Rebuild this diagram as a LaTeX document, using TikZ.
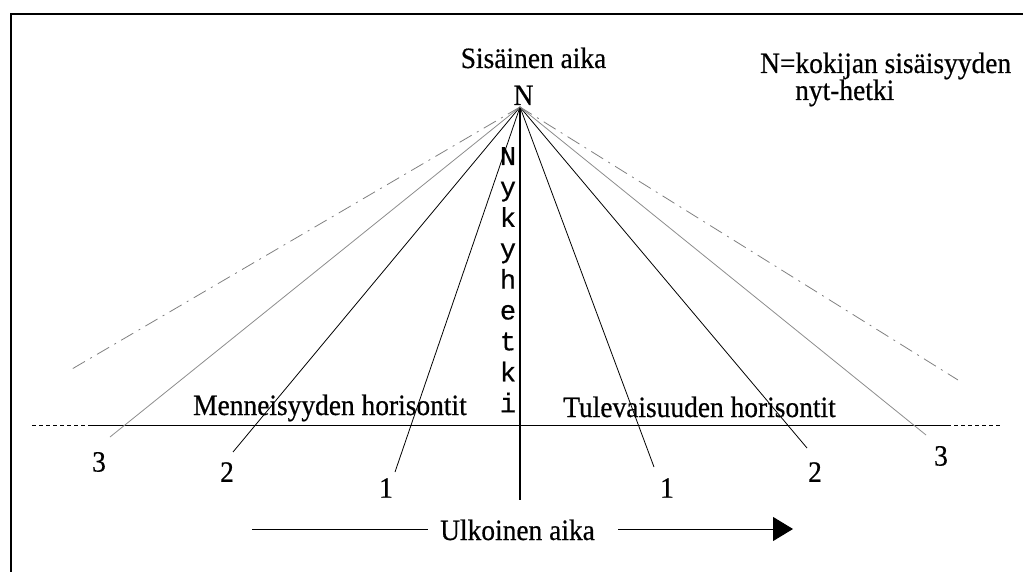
\documentclass[tikz,border=0pt]{standalone}
\usepackage{fontspec}
\setmainfont[FakeStretch=0.93,FakeBold=0.5]{Liberation Serif}
\setmonofont[FakeBold=0.4]{Liberation Mono}
\usetikzlibrary{arrows.meta}
\tikzset{
  x=1pt, y=-1pt,
  lbl/.style={font=\fontsize{29.5}{32}\selectfont, inner sep=0pt},
  mono/.style={font=\ttfamily\fontsize{27}{30}\selectfont, inner sep=0pt, anchor=base},
  ray/.style={line width=0.8pt},
  rayfaint/.style={line width=0.8pt, black!45},
  raydash/.style={line width=0.8pt, black!50, dash pattern=on 14pt off 6pt on 2pt off 6pt},
  axis/.style={line width=1.1pt},
  horiz/.style={line width=1pt},
  horizdash/.style={line width=1pt, dash pattern=on 4pt off 3pt},
}
\begin{document}
\begin{tikzpicture}
\useasboundingbox (0,0) rectangle (1023,572);
% frame: top and left edges
\draw[line width=1.2pt] (11,572) -- (11,14) -- (1023,14);

% apex of the fan
\coordinate (apex) at (520,107);
\node[lbl, anchor=base] (Nlbl) at (523.5,105) {N};
\node[lbl, anchor=base] (sis) at (533.5,68) {Sisäinen aika};
\node[lbl, anchor=base west] (def1) at (760,73) {N=kokijan sisäisyyden};
\node[lbl, anchor=base west] (def2) at (795,100) {nyt-hetki};

% vertical axis with the word written downwards
\coordinate (axbot) at (520,500);
\draw[axis] (apex) -- (axbot);
\foreach \c [count=\i from 0] in {N,y,k,y,h,e,t,k,i}
  \node[mono] (nyk\i) at (508,165+30.9*\i) {\c};

% horizon line
\coordinate (h0) at (32,425);
\coordinate (h1) at (92,425);
\coordinate (h2) at (947,425);
\coordinate (h3) at (1000,425);
\draw[horizdash] (h0) -- (h1);
\draw[horiz] (h1) -- (h2);
\draw[horizdash] (h2) -- (h3);

% rays towards the past
\coordinate (l1) at (395,472);
\coordinate (l2) at (233,452);
\coordinate (l3) at (110,437);
\coordinate (l4) at (72,369);
% rays towards the future
\coordinate (r1) at (654,467);
\coordinate (r2) at (807,448);
\coordinate (r3) at (926,435);
\coordinate (r4) at (958,380);
\draw[ray] (apex) -- (l1);
\draw[ray] (apex) -- (l2);
\draw[rayfaint] (apex) -- (l3);
\draw[raydash] (apex) -- (l4);
\draw[ray] (apex) -- (r1);
\draw[ray] (apex) -- (r2);
\draw[rayfaint] (apex) -- (r3);
\draw[raydash] (apex) -- (r4);

% ray numbers
\node[lbl] (nl3) at (99,462) {3};
\node[lbl] (nl2) at (227,472) {2};
\node[lbl] (nl1) at (386,488) {1};
\node[lbl] (nr1) at (667,488) {1};
\node[lbl] (nr2) at (815,472) {2};
\node[lbl] (nr3) at (941,456) {3};

% horizon labels
\node[lbl, anchor=base west] (past) at (193,415) {Menneisyyden horisontit};
\node[lbl, anchor=base west] (fut) at (563,417) {Tulevaisuuden horisontit};

% external time arrow
\node[lbl, anchor=base west] (ulk) at (440,540) {Ulkoinen aika};
\coordinate (a0) at (252,529);
\coordinate (a1) at (428,529);
\coordinate (a2) at (618,529);
\coordinate (a3) at (793,529);
\draw[line width=1pt] (a0) -- (a1);
\draw[line width=1pt, -{Triangle[length=20pt,width=24pt]}] (a2) -- (a3);
\end{tikzpicture}
\end{document}
